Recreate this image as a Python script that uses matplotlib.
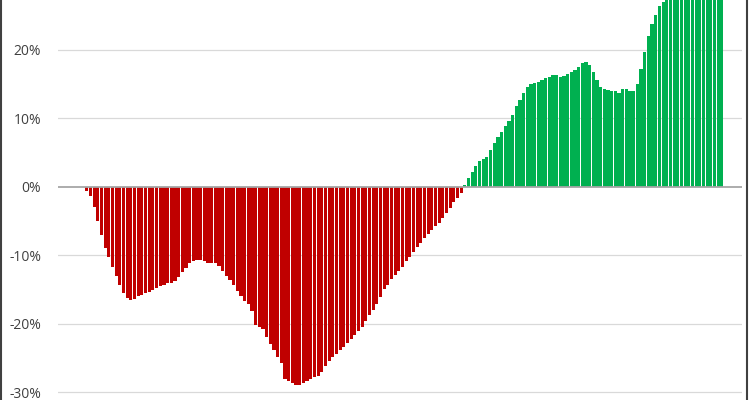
import numpy as np
import matplotlib
matplotlib.use("Agg")
import matplotlib.pyplot as plt
from matplotlib.lines import Line2D
from matplotlib.ticker import FuncFormatter

# Cumulative return per period (in %)
red_values = [
    -0.6, -1.4, -3.0, -5.0, -7.0, -8.9, -10.3, -11.7, -13.1, -14.3,
    -15.5, -16.2, -16.5, -16.4, -16.0, -15.8, -15.5, -15.3, -15.1, -14.8,
    -14.5, -14.3, -14.1, -14.0, -13.8, -13.2, -12.5, -11.8, -11.2, -10.8,
    -10.7, -10.7, -10.9, -11.1, -11.1, -11.2, -11.6, -12.3, -13.0, -13.6,
    -14.4, -15.2, -15.9, -16.7, -17.1, -18.2, -20.2, -20.5, -20.8, -21.9,
    -23.0, -23.9, -24.8, -25.8, -28.1, -28.4, -28.7, -28.9, -28.9, -28.7,
    -28.4, -28.0, -27.8, -27.6, -27.0, -26.2, -25.4, -24.9, -24.4, -23.9,
    -23.4, -22.8, -22.2, -21.7, -21.1, -20.5, -19.6, -18.7, -18.0, -17.1,
    -16.1, -15.0, -14.3, -13.5, -12.9, -12.3, -11.7, -10.9, -10.2, -9.5,
    -8.8, -8.2, -7.5, -6.9, -6.3, -5.7, -5.3, -4.6, -3.9, -3.1,
    -2.3, -1.6, -0.9,
]
green_values = [
    0.2, 1.3, 2.2, 3.0, 3.8, 4.1, 4.4, 5.3, 6.4, 7.2,
    8.0, 8.9, 9.6, 10.5, 11.8, 12.7, 13.6, 14.6, 15.0, 15.2,
    15.3, 15.6, 15.8, 16.0, 16.3, 16.3, 16.0, 16.1, 16.4, 16.7,
    17.0, 17.5, 18.0, 18.2, 17.7, 16.8, 15.6, 14.6, 14.3, 14.1,
    13.9, 13.9, 13.7, 14.2, 14.2, 14.0, 14.0, 15.0, 17.2, 19.6,
    22.0, 23.8, 25.1, 26.4, 26.9, 27.6, 28.3, 29.0, 29.6, 30.2,
    30.7, 31.1, 31.5, 31.3, 31.9, 32.4, 32.1, 32.7, 33.1, 33.4,
    33.8,
]
y_ticks = [-30, -20, -10, 0, 10, 20]

values = np.array(red_values + green_values) / 100.0
x = np.arange(len(values))
colors = ['#c00000' if v < 0 else '#00b050' for v in values]

plt.rcParams['font.family'] = ['Open Sans', 'DejaVu Sans']

fig = plt.figure(figsize=(7.5, 4), dpi=100)
ax = fig.add_axes((58 / 750, 0, 684 / 750, 1))

ax.bar(x, values, width=0.86, color=colors, linewidth=0, zorder=2)

# Grid and zero line
for t in y_ticks:
    if t == 0:
        ax.axhline(0, color='#a6a6a6', linewidth=1.3, zorder=3)
    else:
        ax.axhline(t / 100.0, color='#d9d9d9', linewidth=0.9, zorder=1)

ax.set_xlim(-7.86, 178.5)
ax.set_ylim(-0.3113, 0.2724)
ax.set_yticks([t / 100.0 for t in y_ticks])
ax.yaxis.set_major_formatter(FuncFormatter(lambda v, p: f"{v * 100:.0f}%"))
ax.tick_params(axis='y', length=0, pad=12, labelsize=10, labelcolor='#404040')
ax.set_xticks([])
for s in ax.spines.values():
    s.set_visible(False)

# Outer frame lines on the left and right edges
fig.add_artist(Line2D([0.001, 0.001], [0, 1], color='#404040', linewidth=1.5))
fig.add_artist(Line2D([0.996, 0.996], [0, 1], color='#404040', linewidth=1.5))

fig.savefig("out.png", dpi=100)
